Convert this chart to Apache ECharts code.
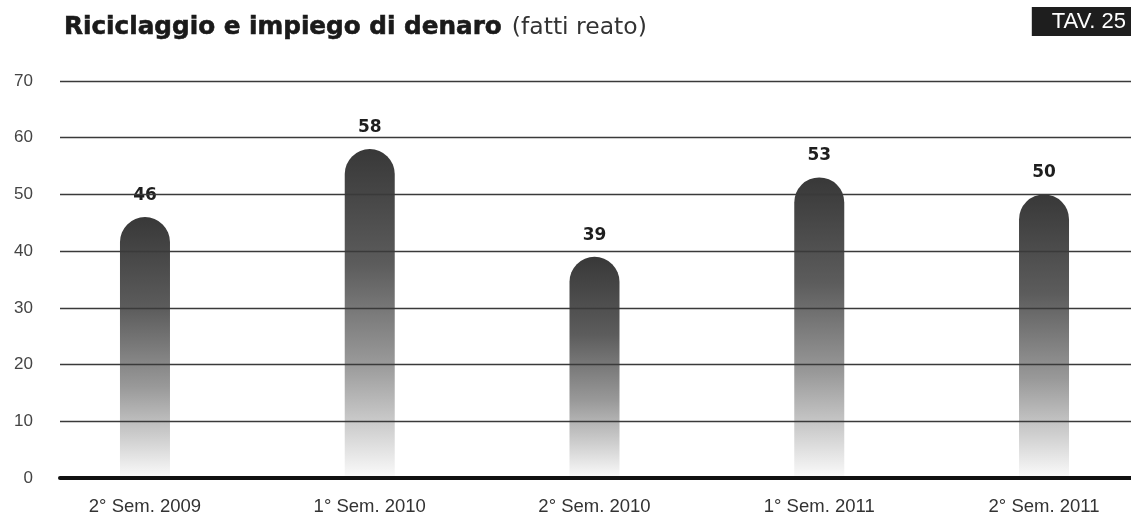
<!DOCTYPE html>
<html>
<head>
<meta charset="utf-8">
<script src="https://cdn.jsdelivr.net/npm/echarts@6/dist/echarts.min.js"></script>
<style>
html,body{margin:0;padding:0;background:#fff;}
#c{width:1131px;height:515px;}
</style>
</head>
<body>
<div id="c"></div>
<script>
const categories = ['2° Sem. 2009', '1° Sem. 2010', '2° Sem. 2010', '1° Sem. 2011', '2° Sem. 2011'];
const values = [46, 58, 39, 53, 50];
const yTicks = [0, 10, 20, 30, 40, 50, 60, 70];

const FONT = "'Liberation Sans', Arial, Helvetica, sans-serif";
const WIDE = "'DejaVu Sans', 'Liberation Sans', sans-serif";
const chart = echarts.init(document.getElementById('c'), null, {renderer: 'canvas'});

const barGradient = new echarts.graphic.LinearGradient(0, 0, 0, 1, [
  {offset: 0, color: '#383838'},
  {offset: 0.35, color: '#5c5c5c'},
  {offset: 0.65, color: '#999999'},
  {offset: 0.85, color: '#d0d0d0'},
  {offset: 1, color: '#fbfbfb'}
]);

chart.setOption({
  animation: false,
  backgroundColor: '#ffffff',
  textStyle: {fontFamily: FONT},
  title: [
    {
      left: 64, top: 15, padding: 0,
      text: '{b|Riciclaggio e impiego di denaro}{n|(fatti reato)}',
      textStyle: {
        rich: {
          b: {fontFamily: WIDE, fontSize: 24.7, fontWeight: 'bold', color: '#1a1a1a',
              textBorderColor: '#1a1a1a', textBorderWidth: 0.6},
          n: {fontFamily: WIDE, fontSize: 23.5, fontWeight: 'normal', color: '#333333',
              padding: [0, 0, 0, 10]}
        }
      }
    },
    {
      right: 0, top: 7,
      text: 'TAV. 25',
      backgroundColor: '#1e1e1e',
      padding: [4, 5, 3, 20],
      textStyle: {fontFamily: FONT, fontSize: 22, fontWeight: 'normal', color: '#ffffff', lineHeight: 22}
    }
  ],
  grid: [
    {left: 60, right: 0, top: 81, bottom: 37, outerBoundsMode: 'none', containLabel: false},
    {left: 32.6, right: -25.4, top: 81, bottom: 37, outerBoundsMode: 'none', containLabel: false}
  ],
  xAxis: [
    {
      gridIndex: 0, type: 'category', data: categories, z: 10,
      axisLine: {show: true, lineStyle: {color: '#111', width: 4}},
      axisTick: {show: false}, axisLabel: {show: false}, splitLine: {show: false}
    },
    {
      gridIndex: 1, type: 'category', data: categories,
      axisLine: {show: false}, axisTick: {show: false},
      axisLabel: {show: true, margin: 19, fontFamily: FONT, fontSize: 18.5, color: '#333'}
    }
  ],
  yAxis: [
    {
      gridIndex: 0, type: 'value', min: 0, max: 70, interval: 10, z: 5,
      axisLine: {show: false}, axisTick: {show: false},
      axisLabel: {
        margin: 27, fontFamily: FONT, fontSize: 17, color: '#444',
        formatter: v => (yTicks.indexOf(v) >= 0 ? String(v) : '')
      },
      splitLine: {show: true, lineStyle: {color: '#3a3a3a', width: 1.3}}
    },
    {
      gridIndex: 1, type: 'value', min: 0, max: 70, interval: 10, show: false,
      splitLine: {show: false}
    }
  ],
  series: [{
    type: 'bar',
    xAxisIndex: 1, yAxisIndex: 1,
    data: values,
    barWidth: 50,
    z: 2,
    itemStyle: {color: barGradient, borderRadius: [25, 25, 0, 0]},
    label: {
      show: true, position: 'top', distance: 13,
      fontFamily: WIDE, fontSize: 17, fontWeight: 'bold', color: '#1e1e1e'
    }
  }]
});
</script>
</body>
</html>
